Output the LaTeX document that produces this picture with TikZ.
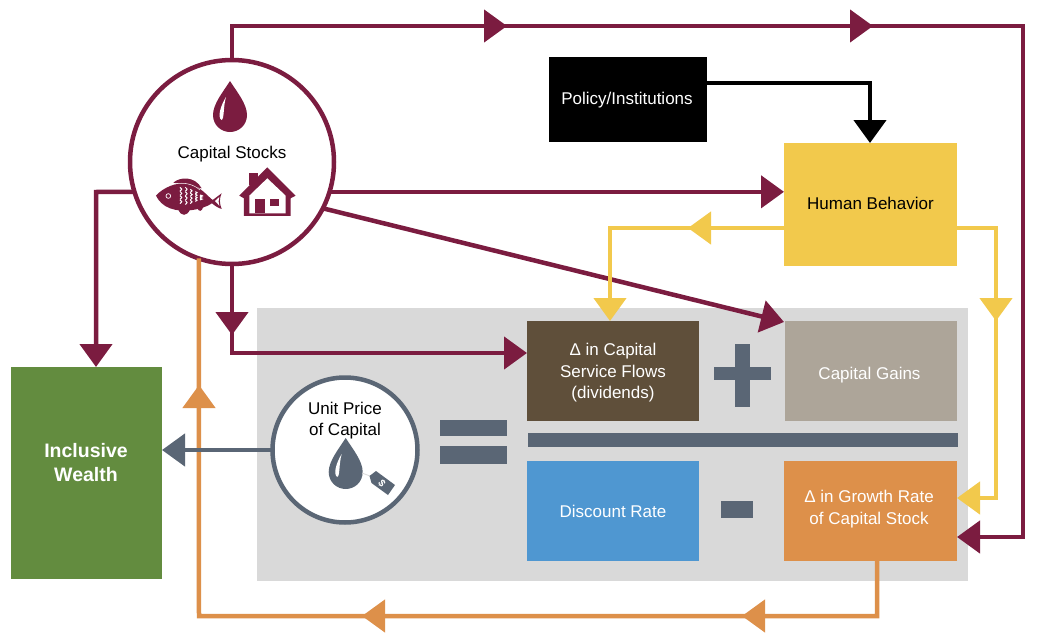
\documentclass[tikz,border=0pt]{standalone}
\usepackage{fontspec}
\setmainfont{Liberation Sans}
\usetikzlibrary{arrows.meta}
\definecolor{maroon}{HTML}{7B1C40}
\definecolor{sun}{HTML}{F2C94C}
\definecolor{amber}{HTML}{DD904A}
\definecolor{slate}{HTML}{5A6675}
\definecolor{panel}{HTML}{D9D9D9}
\definecolor{umber}{HTML}{5F4F3A}
\definecolor{stone}{HTML}{ADA599}
\definecolor{sky}{HTML}{4F97D1}
\definecolor{leaf}{HTML}{638C3F}
\tikzset{
  box/.style={rectangle,draw=none,inner sep=0pt,outer sep=0pt,align=center,font=\fontsize{17}{22}\selectfont},
  whitebox/.style={box,text=white},
  ring/.style={circle,fill=white,line width=4.5pt,inner sep=0pt,outer sep=0pt},
  label text/.style={inner sep=0pt,align=center,font=\fontsize{17}{21.5}\selectfont},
  conn/.style={line width=4.5pt,line join=miter,line cap=butt},
  tip/.style={-{Triangle[length=23pt,width=32pt]}},
}
\newcommand{\dropicon}[3]{% x, y of round centre, colour
  \begin{scope}[shift={(#1,#2)}]
    \fill[#3] (0,-34) .. controls (7,-23) and (17,-11) .. (17,0) .. controls (17,10) and (9,17) .. (0,17)
      .. controls (-9,17) and (-17,10) .. (-17,0) .. controls (-17,-11) and (-7,-23) .. (0,-34) -- cycle;
    \fill[white] (-4,-18) .. controls (-9,-10) and (-13,2) .. (-8.5,5) .. controls (-5.5,4) and (-7,-8) .. (-4,-18) -- cycle;
  \end{scope}}
\begin{document}
\begin{tikzpicture}[x=1pt,y=-1pt]
\useasboundingbox (0,0) rectangle (1037,637);
\fill[white] (0,0) rectangle (1037,637);
% panel
\fill[panel] (257,308) rectangle (968,581);
% boxes
\node[box,fill=black,text=white,minimum width=158pt,minimum height=85pt] (policy) at (628,99.5) {};
\node[label text,text=white] (policytext) at (627,100) {Policy/Institutions};
\node[box,fill=sun,minimum width=173pt,minimum height=123pt] (human) at (870.5,204.5) {};
\node[label text] (humantext) at (870.5,203) {Human Behavior};
\node[box,fill=umber,minimum width=172pt,minimum height=100pt] (service) at (613,371) {};
\node[label text,text=white] (servicetext) at (613,373) {Δ in Capital\\Service Flows\\(dividends)};
\node[box,fill=stone,minimum width=172pt,minimum height=100pt] (gains) at (871,371) {};
\node[label text,text=white] (gainstext) at (869.5,375) {Capital Gains};
\node[whitebox,fill=sky,minimum width=172pt,minimum height=100pt] (discount) at (613,511) {Discount Rate};
\node[box,fill=amber,minimum width=173pt,minimum height=100pt] (growth) at (870.5,511) {};
\node[label text,text=white] (growthtext) at (869,509) {Δ in Growth Rate\\of Capital Stock};
\node[box,fill=leaf,minimum width=151pt,minimum height=212pt] (wealth) at (86.5,473) {};
\node[label text,text=white,font=\bfseries\fontsize{19.5}{24}\selectfont] (wealthtext) at (86,463) {Inclusive\\Wealth};
% operators
\fill[slate] (528,433) rectangle (958,447);
\fill[slate] (714,367) rectangle (771,380);
\fill[slate] (735,344) rectangle (750,407);
\fill[slate] (440,420) rectangle (507,436);
\fill[slate] (440,446) rectangle (507,464);
\fill[slate] (721,501) rectangle (753,518);
% circles
\node[ring,draw=maroon,minimum size=204pt] (stocks) at (232,162) {};
\node[ring,draw=slate,minimum size=145pt] (price) at (345,450) {};
\node[label text] (stockstext) at (232,154) {Capital Stocks};
\node[label text] (pricetext) at (345,420.5) {Unit Price\\of Capital};
% corner and mid-line coordinates
\coordinate (tr0) at (484,26);
\coordinate (tr1) at (507,26);
\coordinate (trm) at (850,26);
\coordinate (tr2) at (873,26);
\coordinate (tr3) at (1023,26);
\coordinate (tr4) at (1023,537);
\coordinate (tl) at (stocks.north |- tr1);
\coordinate (wlc) at (96,192);
\coordinate (wtop) at (96,367);
\coordinate (gt) at (784,322);
\coordinate (sm0) at (232,312);
\coordinate (sm) at (232,335);
\coordinate (sc) at (232,353);
\coordinate (pc) at (870,83);
\coordinate (yl0) at (711,228);
\coordinate (yl1) at (688,228);
\coordinate (yl2) at (610,228);
\coordinate (yr1) at (996,228);
\coordinate (yr0) at (996,298);
\coordinate (yr2) at (996,321);
\coordinate (yr3) at (996,498);
\coordinate (o1) at (877,616);
\coordinate (o20) at (765,616);
\coordinate (o2) at (742,616);
\coordinate (o30) at (385,616);
\coordinate (o3) at (362,616);
\coordinate (o4) at (199,616);
\coordinate (o50) at (199,408);
\coordinate (o5) at (199,385);
% maroon
\draw[conn,maroon,tip] (stocks.north) -- (tl) -- (tr3) -- (tr4) -- (growth.east |- tr4);
\draw[conn,maroon,tip] (tr0) -- (tr1);
\draw[conn,maroon,tip] (trm) -- (tr2);
\draw[conn,maroon,tip] (stocks.197) -- (wlc) -- (wtop);
\draw[conn,maroon,tip] (stocks.343) -- (human.west |- stocks.343);
\draw[conn,maroon,tip] (stocks.333) -- (gt);
\draw[conn,maroon,tip] (stocks.south) -- (sc) -- (service.west |- sc);
\draw[conn,maroon,tip] (sm0) -- (sm);
% black
\draw[conn,black,tip] (policy.east |- pc) -- (pc) -- (human.north -| pc);
% yellow
\draw[conn,sun,tip] (human.west |- yl1) -- (yl2) -- (service.north -| yl2);
\draw[conn,sun,tip] (yl0) -- (yl1);
\draw[conn,sun,tip] (human.east |- yr1) -- (yr1) -- (yr3) -- (growth.east |- yr3);
\draw[conn,sun,tip] (yr0) -- (yr2);
% orange
\draw[conn,amber] (growth.south -| o1) -- (o1) -- (o4) -- (stocks.251);
\draw[conn,amber,tip] (o20) -- (o2);
\draw[conn,amber,tip] (o30) -- (o3);
\draw[conn,amber,tip] (o50) -- (o5);
% slate
\draw[conn,slate,tip] (price.west) -- (wealth.east |- price.west);
% drops
\dropicon{230}{115}{maroon}
\dropicon{345.7}{472}{slate}
% tag
\draw[panel,line width=.8pt] (362,473) -- (370,476);
\fill[slate] (369.5,476) -- (376,471) -- (395,485) -- (388,495) -- (371.5,483) -- cycle;
\node[text=white,inner sep=0pt,rotate=-50,font=\bfseries\fontsize{10}{10}\selectfont] (dollar) at (382,483) {\$};
% house and fish, in zoomed coordinates
\begin{scope}[shift={(120,50)},x=.3333pt,y=-.3333pt]
  \fill[maroon] (388,368) rectangle (415,405);
  \fill[maroon] (442,352) -- (527,437) -- (512,445) -- (512,498) -- (372,498) -- (372,445) -- (358,437) -- cycle;
  \fill[white] (442,385) -- (497,437) -- (497,490) -- (388,490) -- (388,437) -- cycle;
  \fill[maroon] (405,447) rectangle (435,490);
  \fill[maroon] (450,447) rectangle (478,468);
  % fish
  \fill[maroon] (108,437) .. controls (130,412) and (170,396) .. (205,400) .. controls (240,408) and (262,438) .. (278,450)
     .. controls (285,445) and (297,436) .. (305,430) .. controls (298,445) and (298,460) .. (305,477)
     .. controls (295,474) and (285,468) .. (276,460) .. controls (250,478) and (190,490) .. (150,475)
     .. controls (130,468) and (115,452) .. (108,437) -- cycle;
  \fill[maroon] (160,398) .. controls (180,380) and (225,378) .. (245,415) -- cycle;
  \fill[maroon] (175,478) .. controls (182,500) and (202,500) .. (210,478) -- cycle;
  \fill[maroon] (232,474) .. controls (236,486) and (246,486) .. (250,470) -- cycle;
  \fill[white] (285,453) -- (298,441) .. controls (295,450) and (295,458) .. (298,467) -- cycle;
  \draw[white,line width=.7pt] (145,438) circle (7);
  \draw[white,line width=.5pt] (165,402) .. controls (190,396) and (220,402) .. (240,420);
  \foreach \cx/\ya/\yb in {180/412/462,196/412/465,211/418/462,226/425/455,240/435/450}{
    \foreach \yy in {0,1,2,3}{
      \draw[white,line width=1pt] (\cx,{\ya+\yy*(\yb-\ya)/4}) .. controls (\cx+7,{\ya+(\yy+.4)*(\yb-\ya)/4}) .. (\cx,{\ya+(\yy+.9)*(\yb-\ya)/4});
    }
  }
\end{scope}
\end{tikzpicture}
\end{document}
